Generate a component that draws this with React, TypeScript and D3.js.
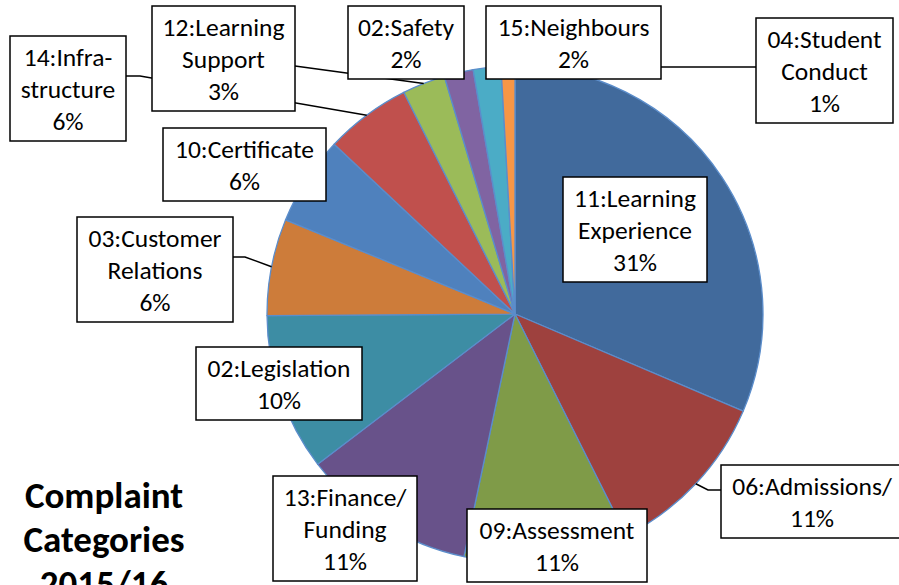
import React from "react";
import * as d3 from "d3";

const categories = [
  "11:Learning Experience",
  "06:Admissions/",
  "09:Assessment",
  "13:Finance/Funding",
  "02:Legislation",
  "03:Customer Relations",
  "10:Certificate",
  "14:Infra-structure",
  "12:Learning Support",
  "02:Safety",
  "15:Neighbours",
  "04:Student Conduct",
];
const values = [31.4, 11.2, 10.7, 11.35, 10.25, 6.3, 5.8, 5.6, 2.8, 1.9, 1.8, 0.9];
const labelLines = [
  ["11:Learning", "Experience"],
  ["06:Admissions/"],
  ["09:Assessment"],
  ["13:Finance/", "Funding"],
  ["02:Legislation"],
  ["03:Customer", "Relations"],
  ["10:Certificate"],
  ["14:Infra-", "structure"],
  ["12:Learning", "Support"],
  ["02:Safety"],
  ["15:Neighbours"],
  ["04:Student", "Conduct"],
];
const colors = [
  "#416A9C", "#9E413E", "#7F9B48", "#68528A", "#3D8DA4", "#CD7C3A",
  "#4F81BD", "#C0504D", "#9BBB59", "#8064A2", "#4BACC6", "#F79646",
];
const titleLines = ["Complaint", "Categories", "2015/16"];

// layout: label boxes [left, top, width]
const boxLayout: [number, number, number][] = [
  [563, 177, 144], [721, 465, 182], [467, 509, 180], [273, 476, 144],
  [196, 347, 166], [77, 217, 156], [163, 128, 163], [10, 36, 116],
  [152, 6, 143], [348, 6, 116], [486, 6, 175], [756, 18, 137],
];
// leader line start/elbow points by slice index
const leaderLayout: Record<number, [number, number][]> = {
  1: [[721, 490], [708, 490]],
  5: [[233, 257], [245, 257]],
  7: [[126, 76], [140, 76]],
  8: [[295, 66]],
  11: [[756, 67], [640, 67]],
};

const W = 899, H = 585;
const cx = 515, cy = 314, R = 248;
const FONT = "Carlito, Calibri, Lato, sans-serif";

export default function App() {
  const data = categories.map((c, i) => ({ c, v: values[i], i }));
  const pie = d3.pie<any>().value((d) => d.v).sort(null);
  const arcs = pie(data);
  const arc = d3.arc<any>().innerRadius(0).outerRadius(R);
  const edge = d3.arc<any>().innerRadius(R).outerRadius(R);
  const total = d3.sum(values);
  const pct = (v: number) => d3.format(".0f")((v / total) * 100) + "%";
  const line = d3.line();

  return (
    <svg width={W} height={H} style={{ position: "absolute", left: 0, top: 0, background: "#fff" }}>
      <g transform={`translate(${cx},${cy})`}>
        {arcs.map((a, i) => (
          <path key={i} d={arc(a) as string} fill={colors[i]} stroke="#5B8DCB" strokeWidth={1.3} strokeLinejoin="round" />
        ))}
      </g>
      {Object.entries(leaderLayout).map(([k, pts]) => {
        const i = +k;
        const [ex, ey] = edge.centroid(arcs[i]);
        const all: [number, number][] = [...pts, [cx + ex, cy + ey]];
        return <path key={k} d={line(all) as string} fill="none" stroke="#000" strokeWidth={1.5} />;
      })}
      {arcs.map((a, i) => {
        const [x, y, w] = boxLayout[i];
        const lines = [...labelLines[i], pct(values[i])];
        const h = 32 * lines.length + 9;
        return (
          <g key={i}>
            <rect x={x} y={y} width={w} height={h} fill="#fff" stroke="#000" strokeWidth={1.5} />
            {lines.map((t, j) => (
              <text key={j} x={x + w / 2} y={y + 30 + 32 * j} textAnchor="middle" fontFamily={FONT} fontSize={25.5} fill="#000">
                {t}
              </text>
            ))}
          </g>
        );
      })}
      {titleLines.map((t, j) => (
        <text key={j} x={104} y={508 + 44 * j} textAnchor="middle" fontFamily={FONT} fontWeight="bold" fontSize={37} fill="#000">
          {t}
        </text>
      ))}
    </svg>
  );
}
